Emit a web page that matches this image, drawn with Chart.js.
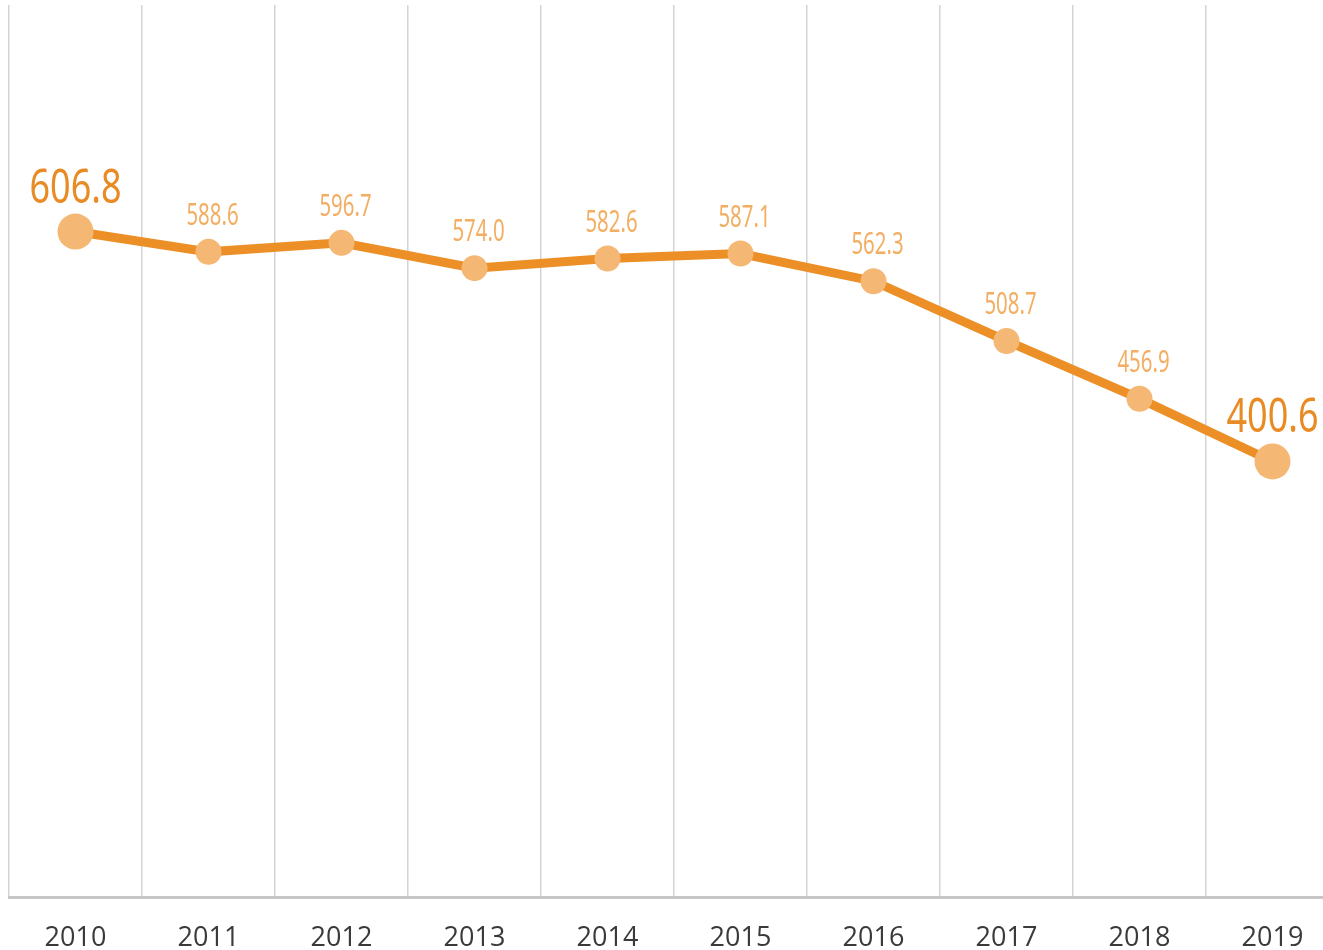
<!DOCTYPE html>
<html lang="en">
<head>
  <meta charset="UTF-8">
  <title>Line chart 2010-2019</title>
  <script src="https://cdn.jsdelivr.net/npm/chart.js"></script>
  <style>
    body {
      margin: 0;
      background-color: #fff;
      overflow: hidden;
    }
    #wrap {
      width: 1323px;
      height: 950px;
      overflow: hidden;
    }
  </style>
</head>
<body>
  <div id="wrap">
    <canvas id="lineChart" width="1340" height="950"></canvas>
  </div>

  <script>
    // data
    const years = ['2010', '2011', '2012', '2013', '2014', '2015', '2016', '2017', '2018', '2019'];
    const values = [606.8, 588.6, 596.7, 574.0, 582.6, 587.1, 562.3, 508.7, 456.9, 400.6];
    const valueLabels = ['606.8', '588.6', '596.7', '574.0', '582.6', '587.1', '562.3', '508.7', '456.9', '400.6'];

    const lineColor = '#ec8f26';
    const dotColor = '#f4b774';
    const lastIdx = values.length - 1;
    const isEnd = i => i === 0 || i === lastIdx;

    // draws the value above each point, squeezed to look like a condensed face
    function condensedText(ctx, text, x, y, size, squeeze) {
      ctx.save();
      ctx.translate(x, y);
      ctx.scale(squeeze, 1);
      ctx.font = size + 'px "Noto Sans", sans-serif';
      ctx.fillText(text, 0, 0);
      ctx.restore();
    }

    const valueLabelPlugin = {
      id: 'valueLabels',
      afterDatasetsDraw(chart) {
        const ctx = chart.ctx;
        const meta = chart.getDatasetMeta(0);
        ctx.save();
        ctx.textAlign = 'center';
        ctx.textBaseline = 'alphabetic';
        meta.data.forEach((pt, i) => {
          if (isEnd(i)) {
            ctx.fillStyle = '#e98b24';
            condensedText(ctx, valueLabels[i], pt.x, pt.y - 29, 48, 0.75);
          } else {
            ctx.fillStyle = '#f2ae62';
            condensedText(ctx, valueLabels[i], pt.x + 4, pt.y - 27, 30, 0.68);
          }
        });
        ctx.restore();
      }
    };

    const ctx = document.getElementById('lineChart').getContext('2d');
    const lineChart = new Chart(ctx, {
      type: 'line',
      data: {
        labels: years,
        datasets: [{
          data: values,
          borderColor: lineColor,
          borderWidth: 9,
          backgroundColor: dotColor,
          pointBackgroundColor: dotColor,
          pointBorderWidth: 0,
          pointRadius: values.map((v, i) => isEnd(i) ? 18 : 13),
          tension: 0
        }]
      },
      options: {
        responsive: false,
        animation: false,
        layout: {
          autoPadding: false,
          padding: { left: 9, top: 5, right: 1, bottom: 0 }
        },
        scales: {
          x: {
            offset: true,
            grid: {
              offset: true,
              color: '#d4d4d4',
              lineWidth: 1.5,
              drawTicks: false
            },
            border: { color: '#c6c6c6', width: 3 },
            ticks: {
              color: '#3a3a3a',
              font: { family: '"Open Sans", sans-serif', size: 27 },
              padding: 25
            },
            afterFit(scale) { scale.height = 53; }
          },
          y: {
            display: false,
            min: 10,
            max: 810
          }
        },
        plugins: {
          legend: { display: false },
          tooltip: { enabled: false }
        }
      },
      plugins: [valueLabelPlugin]
    });
  </script>
</body>
</html>
